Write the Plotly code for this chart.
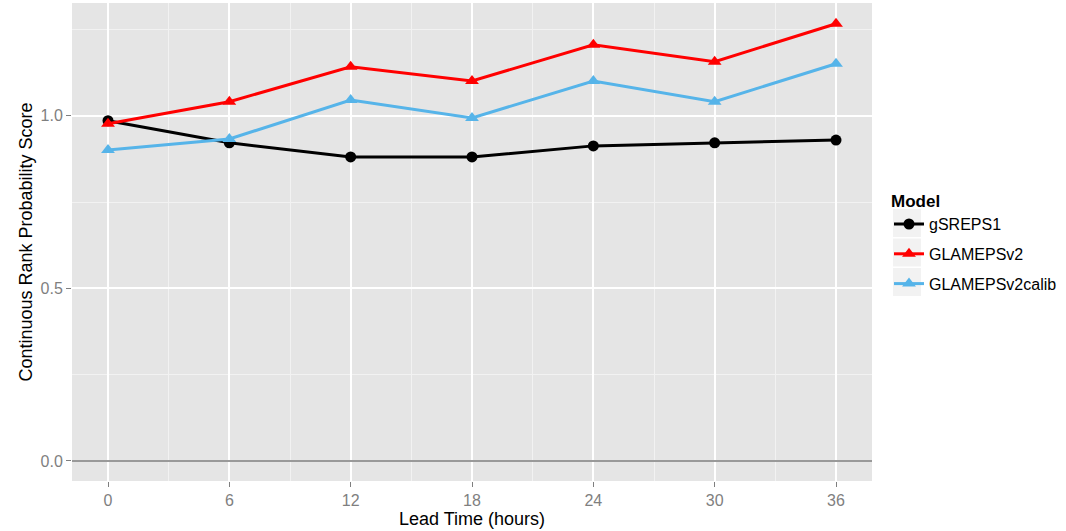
import plotly.graph_objects as go

lead_time = [0, 6, 12, 18, 24, 30, 36]
crps_gsreps1 = [0.986, 0.922, 0.881, 0.881, 0.913, 0.922, 0.930]
crps_glameps = [0.977, 1.041, 1.142, 1.101, 1.206, 1.157, 1.267]
crps_glameps_calib = [0.901, 0.933, 1.046, 0.994, 1.101, 1.041, 1.151]

series = [
    ("gSREPS1", crps_gsreps1, "#000000", "circle"),
    ("GLAMEPSv2", crps_glameps, "#FF0000", "triangle-up"),
    ("GLAMEPSv2calib", crps_glameps_calib, "#56B4E9", "triangle-up"),
]

fig = go.Figure()
for name, vals, color, sym in series:
    fig.add_trace(go.Scatter(
        x=lead_time, y=vals, name=name, legendgroup=name,
        mode="lines+markers",
        line=dict(color=color, width=3),
        marker=dict(color=color, symbol=sym, size=12 if sym != "circle" else 11),
    ))

PANEL_TOP, PANEL_BOTTOM = 3, 481
PANEL_H = PANEL_BOTTOM - PANEL_TOP

# grey key backgrounds behind the legend symbols
for i in range(3):
    cy = 223 + i * 29.5
    fig.add_shape(type="rect", xref="paper", yref="paper",
                  x0=(893 - 72) / 800, x1=(921 - 72) / 800,
                  y0=(PANEL_BOTTOM - (cy + 14)) / PANEL_H, y1=(PANEL_BOTTOM - (cy - 14)) / PANEL_H,
                  fillcolor="#F2F2F2", line_width=0, layer="below")

axis_common = dict(
    showline=False, ticks="outside", ticklen=5, tickwidth=1, tickcolor="#7F7F7F",
    gridcolor="#FFFFFF", gridwidth=1.5,
    tickfont=dict(family="Liberation Sans, Arial", size=16, color="#7F7F7F"),
)

fig.update_layout(
    width=1066, height=531,
    margin=dict(l=72, r=194, t=PANEL_TOP, b=531 - PANEL_BOTTOM),
    paper_bgcolor="#FFFFFF", plot_bgcolor="#E5E5E5",
    font=dict(family="Liberation Sans, Arial", color="#000000"),
    xaxis=dict(
        range=[-1.78, 37.78], tickmode="array", tickvals=lead_time,
        ticktext=[str(v) for v in lead_time],
        minor=dict(dtick=3, tick0=0, showgrid=True, gridcolor="#F2F2F2", gridwidth=0.8, ticks=""),
        title=dict(text="Lead Time (hours)", font=dict(size=18), standoff=3),
        zeroline=False,
        **axis_common,
    ),
    yaxis=dict(
        range=[-0.058, 1.327], tickmode="array", tickvals=[0, 0.5, 1.0],
        ticktext=["0.0", "0.5", "1.0"],
        minor=dict(dtick=0.25, tick0=0, showgrid=True, gridcolor="#F2F2F2", gridwidth=0.8, ticks=""),
        title=dict(text="Continuous Rank Probability Score", font=dict(size=18), standoff=3),
        zeroline=True, zerolinecolor="#999999", zerolinewidth=1.5,
        **axis_common,
    ),
    legend=dict(
        x=(889 - 72) / 800, y=(PANEL_BOTTOM - 185) / PANEL_H, xanchor="left", yanchor="top",
        bgcolor="rgba(0,0,0,0)", tracegroupgap=6,
        title=dict(text="<b>Model</b>", font=dict(size=17)),
        font=dict(size=16),
    ),
)

fig.write_html("out.html")
